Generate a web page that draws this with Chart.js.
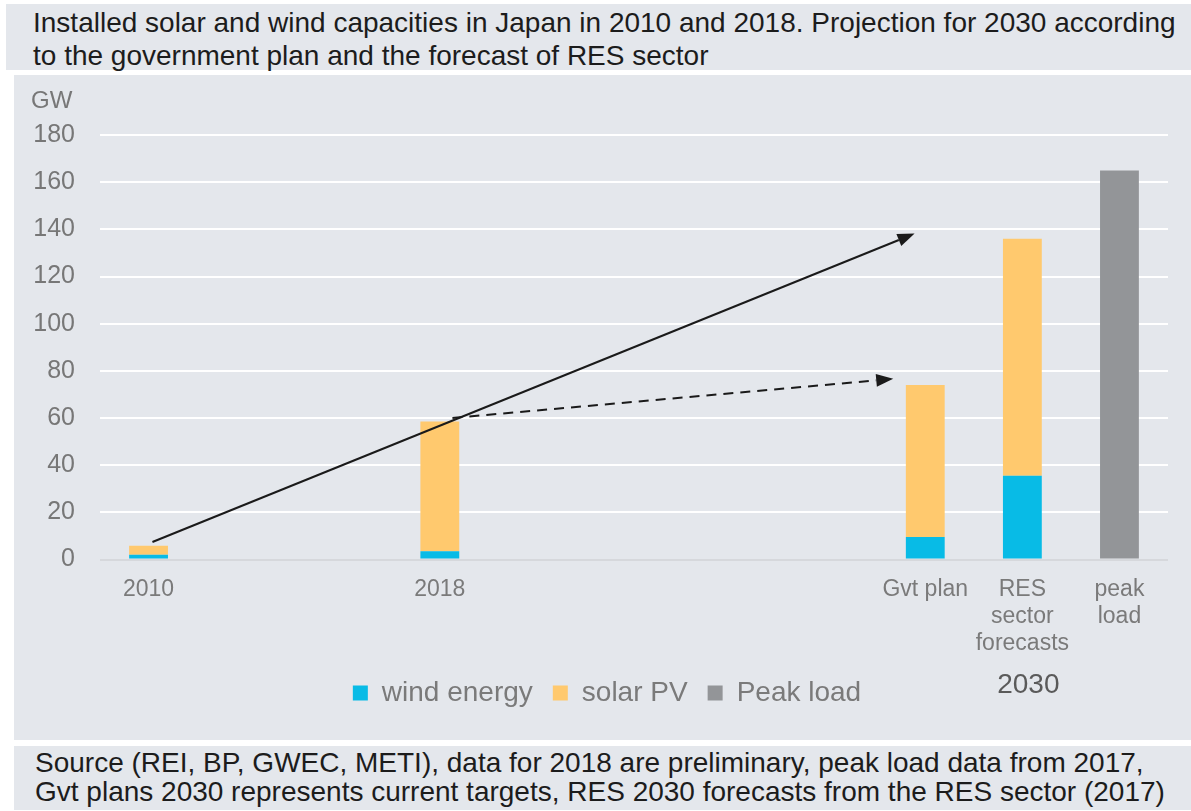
<!DOCTYPE html>
<html>
<head>
<meta charset="utf-8">
<script src="https://cdn.jsdelivr.net/npm/chart.js@4/dist/chart.umd.min.js"></script>
<style>
  body { margin: 0; background: #fff; font-family: "Liberation Sans", Arial, sans-serif; }
  .panel { position: absolute; background: #e4e7ec; }
  #title { left: 6px; top: 4px; width: 1158px; height: 64px; padding: 2px 0 0 27px; font-size: 28px; line-height: 33px; color: #1c1c1c; }
  #chart-box { left: 14px; top: 75px; width: 1177px; height: 665px; }
  #footer { left: 14px; top: 746px; width: 1156px; height: 62px; padding: 2px 0 0 21px; font-size: 28px; line-height: 29px; color: #1c1c1c; }
</style>
</head>
<body>
<div id="title" class="panel">Installed solar and wind capacities in Japan in 2010 and 2018. Projection for 2030 according<br>to the government plan and the forecast of RES sector</div>
<div id="chart-box" class="panel"><canvas id="chart-capacity"></canvas></div>
<div id="footer" class="panel">Source (REI, BP, GWEC, METI), data for 2018 are preliminary, peak load data from 2017,<br>Gvt plans 2030 represents current targets, RES 2030 forecasts from the RES sector (2017)</div>

<script>
const categories = ['2010', '', '', '2018', '', '', '', '', 'Gvt plan', ['RES', 'sector', 'forecasts'], ['peak', 'load']];
const windEnergy = [2, null, null, 3.5, null, null, null, null, 9.5, 35.5, null];
const solarPV = [3.8, null, null, 55, null, null, null, null, 64.5, 100.5, null];
const peakLoad = [null, null, null, null, null, null, null, null, null, null, 165];
const yTicks = [0, 20, 40, 60, 80, 100, 120, 140, 160, 180];

// arrows in data units: [x index, GW] -> [x index, GW]
const solidArrow = [0.04, 7.4, 7.89, 138.2];
const dashedArrow = [3.13, 60, 7.67, 76.6];

const canvas = document.getElementById('chart-capacity');
canvas.style.width = '1177px';
canvas.style.height = '665px';

function drawArrow(ctx, x0, y0, x1, y1, dashed) {
    const ang = Math.atan2(y1 - y0, x1 - x0);
    const headLen = 17;
    const bx = x1 - Math.cos(ang) * headLen;
    const by = y1 - Math.sin(ang) * headLen;
    ctx.save();
    ctx.strokeStyle = '#1a1a1a';
    ctx.fillStyle = '#1a1a1a';
    ctx.lineWidth = 2;
    ctx.setLineDash(dashed ? [10, 7] : []);
    ctx.beginPath();
    ctx.moveTo(x0, y0);
    ctx.lineTo(bx, by);
    ctx.stroke();
    ctx.setLineDash([]);
    ctx.beginPath();
    ctx.moveTo(x1, y1);
    ctx.lineTo(bx + Math.sin(ang) * 6.5, by - Math.cos(ang) * 6.5);
    ctx.lineTo(bx - Math.sin(ang) * 6.5, by + Math.cos(ang) * 6.5);
    ctx.closePath();
    ctx.fill();
    ctx.restore();
}

const extrasPlugin = {
    id: 'extras',
    afterLayout(chart) {
        // legend sits a bit right of the canvas centre in the original
        chart.legend.left += 8;
        chart.legend.right += 8;
    },
    afterDatasetsDraw(chart) {
        const ctx = chart.ctx;
        const x = chart.scales.x;
        const y = chart.scales.y;
        drawArrow(ctx, x.getPixelForValue(solidArrow[0]), y.getPixelForValue(solidArrow[1]),
            x.getPixelForValue(solidArrow[2]), y.getPixelForValue(solidArrow[3]), false);
        drawArrow(ctx, x.getPixelForValue(dashedArrow[0]), y.getPixelForValue(dashedArrow[1]),
            x.getPixelForValue(dashedArrow[2]), y.getPixelForValue(dashedArrow[3]), true);

        ctx.save();
        ctx.font = '24px "Liberation Sans", Arial, sans-serif';
        ctx.fillStyle = '#777777';
        ctx.textAlign = 'left';
        ctx.textBaseline = 'middle';
        ctx.fillText('GW', 17, 26);

        ctx.font = '28px "Liberation Sans", Arial, sans-serif';
        ctx.fillStyle = '#5a5a5a';
        ctx.textAlign = 'center';
        ctx.fillText('2030', x.getPixelForValue(9) + 6, 610);
        ctx.restore();
    }
};

new Chart(canvas.getContext('2d'), {
    type: 'bar',
    data: {
        labels: categories,
        datasets: [
            { label: 'wind energy', data: windEnergy, backgroundColor: '#08bbe6' },
            { label: 'solar PV', data: solarPV, backgroundColor: '#ffc96e' },
            { label: 'Peak load', data: peakLoad, backgroundColor: '#939598' }
        ]
    },
    options: {
        responsive: false,
        animation: false,
        layout: { padding: { left: 16, right: 23, top: 60, bottom: 23 } },
        datasets: { bar: { categoryPercentage: 1, barPercentage: 0.4 } },
        scales: {
            x: {
                stacked: true,
                grid: { display: false },
                border: { display: false },
                ticks: {
                    autoSkip: false,
                    maxRotation: 0,
                    padding: 8.5,
                    color: '#7a7a7a',
                    font: { family: '"Liberation Sans", Arial, sans-serif', size: 23, lineHeight: 1.17 }
                },
                afterFit(scale) { scale.height = 99.5; }
            },
            y: {
                stacked: true,
                min: 0,
                max: 180,
                afterBuildTicks(scale) { scale.ticks = yTicks.map(v => ({ value: v })); },
                grid: {
                    drawTicks: false,
                    lineWidth: 2,
                    color: ctx => ctx.tick && ctx.tick.value === 0 ? '#d6d8dc' : '#ffffff'
                },
                border: { display: false },
                ticks: {
                    padding: 25,
                    color: '#777777',
                    font: { family: '"Liberation Sans", Arial, sans-serif', size: 25 }
                },
                afterFit(scale) { scale.width = 70; }
            }
        },
        plugins: {
            legend: {
                position: 'bottom',
                labels: {
                    boxWidth: 15,
                    boxHeight: 15,
                    padding: 20,
                    color: '#7a7a7a',
                    font: { family: '"Liberation Sans", Arial, sans-serif', size: 28 }
                }
            },
            tooltip: { enabled: false }
        }
    },
    plugins: [extrasPlugin]
});
</script>
</body>
</html>
